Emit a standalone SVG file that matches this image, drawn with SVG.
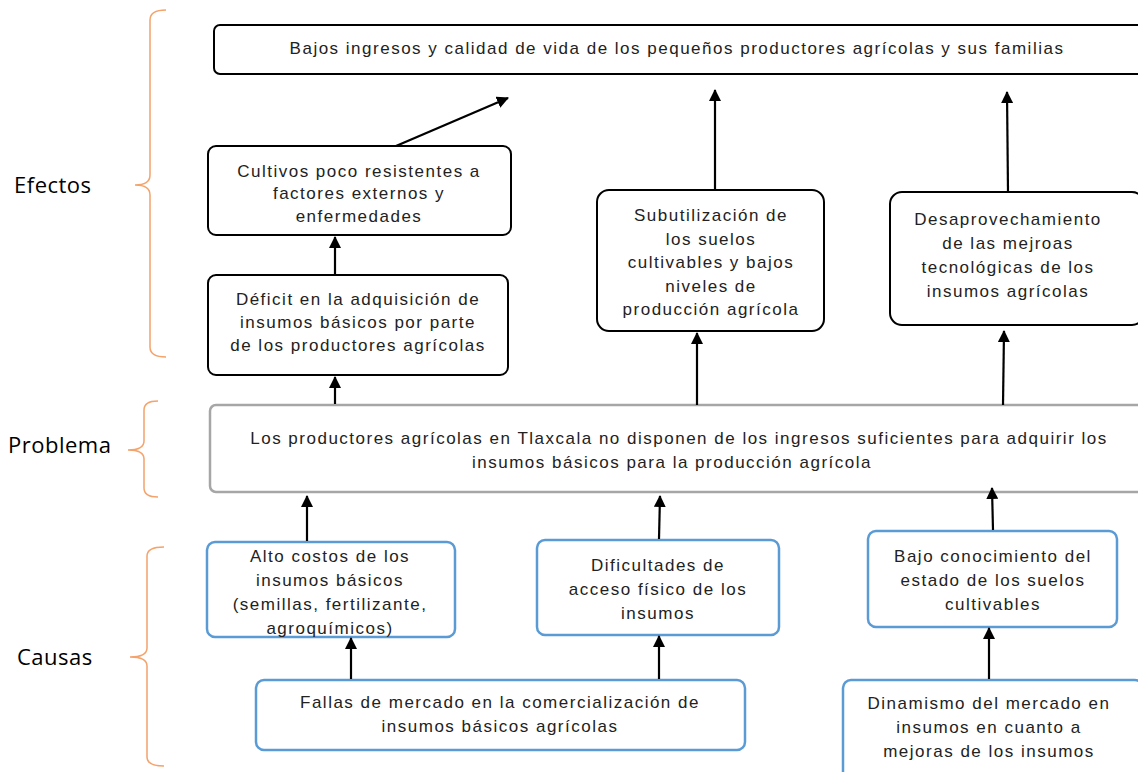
<svg xmlns="http://www.w3.org/2000/svg" width="1138" height="772" viewBox="0 0 1138 772">
<defs>
<marker id="ah" markerWidth="12" markerHeight="12" viewBox="0 0 12 12" refX="11" refY="6" orient="auto" markerUnits="userSpaceOnUse">
<path d="M0,0 L12,6 L0,12 Z" fill="#000"/>
</marker>
</defs>
<style>
.box{fill:#fff;stroke:#000;stroke-width:2}
.gbox{fill:#fff;stroke:#a6a6a6;stroke-width:2.5}
.bbox{fill:#fff;stroke:#5b9bd5;stroke-width:2.5}
.t{font-family:"Liberation Sans",Arial,sans-serif;font-size:17px;fill:#222;text-anchor:middle;letter-spacing:1.5px}
.lab{font-family:"Open Sans","Noto Sans",sans-serif;font-size:22px;fill:#000;letter-spacing:0.5px}
.br{fill:none;stroke:#f4a36b;stroke-width:1.5}
.c{stroke:#000;stroke-width:2.2;fill:none;marker-end:url(#ah)}
</style>
<rect width="1138" height="772" fill="#fff"/>

<g id="labels">
<text class="lab" x="14" y="193">Efectos</text>
<path class="br" d="M166,10 Q150,10 150,20 L150,175 Q150,185 135,185 Q150,185 150,195 L150,347 Q150,357 166,357"/>
<text class="lab" x="8" y="453">Problema</text>
<path class="br" d="M158,401 Q144,401 144,410 L144,441 Q144,450 128,450 Q144,450 144,459 L144,488 Q144,497 158,497"/>
<text class="lab" x="17" y="665">Causas</text>
<path class="br" d="M164,547 Q147,547 147,556 L147,648 Q147,657 130,657 Q147,657 147,666 L147,757 Q147,766 164,766"/>
</g>

<g id="n-top">
<rect class="box" x="214" y="25" width="930" height="49" rx="6"/>
<text class="t" x="677" y="54">Bajos ingresos y calidad de vida de los pequeños productores agrícolas y sus familias</text>
</g>

<g id="n-cultivos">
<rect class="box" x="208" y="146" width="303" height="89" rx="8"/>
<text class="t" x="359" y="177">Cultivos poco resistentes a</text>
<text class="t" x="359" y="199">factores externos y</text>
<text class="t" x="359" y="222">enfermedades</text>
</g>

<g id="n-deficit">
<rect class="box" x="208" y="275" width="300" height="100" rx="8"/>
<text class="t" x="358" y="305">Déficit en la adquisición de</text>
<text class="t" x="358" y="328">insumos básicos por parte</text>
<text class="t" x="358" y="351">de los productores agrícolas</text>
</g>

<g id="n-subutil">
<rect class="box" x="597" y="190" width="227" height="141" rx="12"/>
<text class="t" x="711" y="221">Subutilización de</text>
<text class="t" x="711" y="244.5">los suelos</text>
<text class="t" x="711" y="268">cultivables y bajos</text>
<text class="t" x="711" y="291.5">niveles de</text>
<text class="t" x="711" y="315">producción agrícola</text>
</g>

<g id="n-desap">
<rect class="box" x="890" y="192" width="254" height="133" rx="12"/>
<text class="t" x="1008" y="225">Desaprovechamiento</text>
<text class="t" x="1008" y="249">de las mejroas</text>
<text class="t" x="1008" y="273">tecnológicas de los</text>
<text class="t" x="1008" y="297">insumos agrícolas</text>
</g>

<g id="n-problema">
<rect class="gbox" x="210" y="405" width="940" height="87" rx="6"/>
<text class="t" x="679" y="444">Los productores agrícolas en Tlaxcala no disponen de los ingresos suficientes para adquirir los</text>
<text class="t" x="672" y="468">insumos básicos para la producción agrícola</text>
</g>

<g id="n-alto">
<rect class="bbox" x="207" y="542" width="248" height="95" rx="8"/>
<text class="t" x="330" y="562">Alto costos de los</text>
<text class="t" x="330" y="586">insumos básicos</text>
<text class="t" x="330" y="610">(semillas, fertilizante,</text>
<text class="t" x="330" y="634">agroquímicos)</text>
</g>

<g id="n-dificultades">
<rect class="bbox" x="537" y="540" width="242" height="95" rx="8"/>
<text class="t" x="658" y="571">Dificultades de</text>
<text class="t" x="658" y="595">acceso físico de los</text>
<text class="t" x="658" y="619">insumos</text>
</g>

<g id="n-bajo">
<rect class="bbox" x="868" y="531" width="249" height="96" rx="8"/>
<text class="t" x="993" y="562">Bajo conocimiento del</text>
<text class="t" x="993" y="586">estado de los suelos</text>
<text class="t" x="993" y="610">cultivables</text>
</g>

<g id="n-fallas">
<rect class="bbox" x="256" y="680" width="489" height="70" rx="8"/>
<text class="t" x="500" y="708">Fallas de mercado en la comercialización de</text>
<text class="t" x="500" y="732">insumos básicos agrícolas</text>
</g>

<g id="n-dinamismo">
<rect class="bbox" x="843" y="680" width="300" height="100" rx="8"/>
<text class="t" x="989" y="709">Dinamismo del mercado en</text>
<text class="t" x="989" y="733">insumos en cuanto a</text>
<text class="t" x="989" y="757">mejoras de los insumos</text>
</g>

<g id="connectors">
<line class="c" x1="396" y1="146" x2="508" y2="98"/>
<line class="c" x1="335" y1="274" x2="335" y2="237"/>
<line class="c" x1="335" y1="404" x2="335" y2="377"/>
<line class="c" x1="715" y1="190" x2="715" y2="90"/>
<line class="c" x1="1008" y1="192" x2="1007" y2="92"/>
<line class="c" x1="697" y1="405" x2="697" y2="333"/>
<line class="c" x1="1003" y1="405" x2="1004" y2="331"/>
<line class="c" x1="307" y1="541" x2="307" y2="496"/>
<line class="c" x1="659" y1="539" x2="660" y2="496"/>
<line class="c" x1="993" y1="530" x2="992" y2="488"/>
<line class="c" x1="351" y1="679" x2="351" y2="638"/>
<line class="c" x1="659" y1="679" x2="659" y2="636"/>
<line class="c" x1="989" y1="679" x2="989" y2="628"/>
</g>
</svg>
